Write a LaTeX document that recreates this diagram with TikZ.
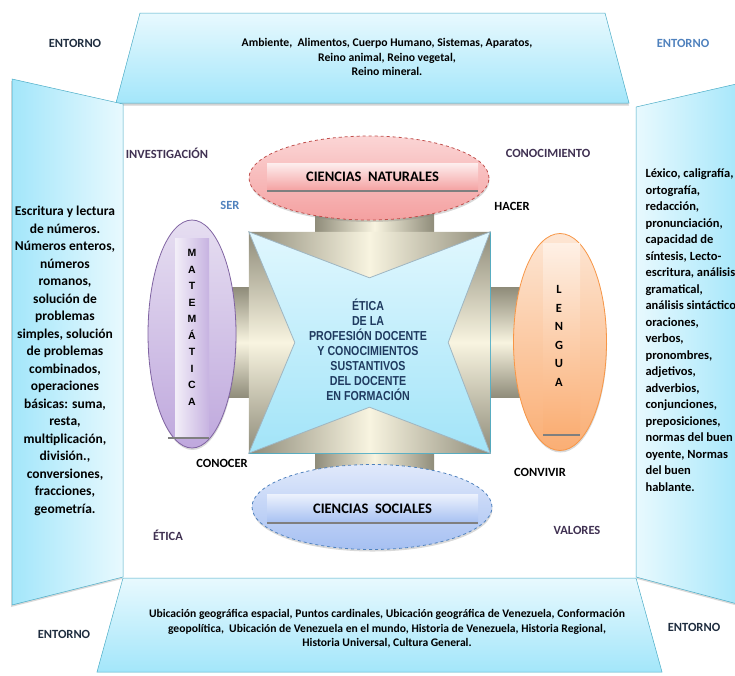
\documentclass[tikz,border=0pt]{standalone}
\usepackage{fontspec}
\setmainfont{Carlito}
\newfontfamily\narrowsans{Liberation Sans}[FakeStretch=0.82]
\newfontfamily\arialsans{Liberation Sans}
\usetikzlibrary{shapes.geometric,shadows,calc,backgrounds}

\definecolor{panelcyan}{HTML}{A3E6FA}
\definecolor{panellight}{HTML}{E8F9FE}
\definecolor{panelline}{HTML}{4BACC6}
\definecolor{tubedark}{HTML}{8F8C7A}
\definecolor{tubelight}{HTML}{F8F4E0}
\definecolor{wedgeline}{HTML}{9FB6C2}
\definecolor{coretop}{HTML}{E0F7FE}
\definecolor{corebot}{HTML}{A2E4F8}
\definecolor{natline}{HTML}{C0504D}
\definecolor{nattop}{HTML}{FBD5D5}
\definecolor{natbot}{HTML}{F4A0A0}
\definecolor{matline}{HTML}{8064A2}
\definecolor{mattop}{HTML}{E6DEF1}
\definecolor{matbot}{HTML}{BFA8DD}
\definecolor{lenline}{HTML}{F79646}
\definecolor{lentop}{HTML}{FDE6D4}
\definecolor{lenbot}{HTML}{FAAE74}
\definecolor{socline}{HTML}{4F81BD}
\definecolor{soctop}{HTML}{E0E9FB}
\definecolor{socbot}{HTML}{A6C0F2}
\definecolor{boxline}{HTML}{7F7F7F}
\definecolor{darknavy}{HTML}{1F2D3F}
\definecolor{plum}{HTML}{403152}
\definecolor{steel}{HTML}{4F81BD}
\definecolor{coretext}{HTML}{1F3A5F}

\newcommand\fsize[2]{\fontsize{#1}{#2}\selectfont}

\tikzset{
    panel/.style={draw=panelline,line width=0.5pt},
    tubev/.style={left color=tubedark,right color=tubedark,middle color=tubelight},
    tubeh/.style={top color=tubedark,bottom color=tubedark,middle color=tubelight},
    wedge/.style={draw=wedgeline,line width=0.8pt},
    subject/.style={ellipse,inner sep=0pt,line width=0.8pt,
        drop shadow={opacity=0.3,shadow xshift=0.5pt,shadow yshift=-2pt}},
    subjbox/.style={inner sep=0pt,font=\bfseries\fsize{14.5}{17}},
    tag/.style={font=\bfseries\fsize{12.5}{15}},
    paneltext/.style={font=\bfseries\fsize{13.5}{17.5},align=center},
    notetext/.style={font=\bfseries\fsize{11.7}{14.5},align=center},
    letters/.style={align=center}
}

\begin{document}
\begin{tikzpicture}[x=1pt,y=-1pt]
            \useasboundingbox (0,0) rectangle (735,675);

            % panels round the box
            \shade[panel,top color=panellight,bottom color=panelcyan,
                drop shadow={opacity=0.35,shadow xshift=0pt,shadow yshift=-2.5pt}]
                (140,13) -- (605,13) -- (629,103) -- (116,103) -- cycle;
            \shade[panel,left color=panelcyan,right color=panellight,
                drop shadow={opacity=0.3,shadow xshift=-1pt,shadow yshift=-2pt}]
                (12,79) -- (123,104) -- (123,577) -- (12,605) -- cycle;
            \shade[panel,left color=panellight,right color=panelcyan,
                drop shadow={opacity=0.3,shadow xshift=1pt,shadow yshift=-2pt}]
                (636,107) -- (745,82) -- (745,606) -- (636,577) -- cycle;
            \shade[panel,top color=panellight,bottom color=panelcyan]
                (123,578) -- (636,578) -- (662,672) -- (97,672) -- cycle;

            \node (envnw) at (75,43) [tag,text=darknavy] {ENTORNO};
            \node (envne) at (683,43) [tag,text=steel] {ENTORNO};
            \node (envsw) at (64,634) [tag,text=darknavy] {ENTORNO};
            \node (envse) at (694,627) [tag,text=darknavy] {ENTORNO};

            \node (nattext) at (387,57) [notetext]
                {Ambiente,\ \ Alimentos, Cuerpo Humano, Sistemas, Aparatos,\\
                 Reino animal, Reino vegetal,\\ Reino mineral.};
            \node (soctext) at (387,629) [notetext,font=\bfseries\fsize{11.6}{14.5}]
                {Ubicación geográfica espacial, Puntos cardinales, Ubicación geográfica de Venezuela, Conformación\\
                 geopolítica,\ \ Ubicación de Venezuela en el mundo, Historia de Venezuela, Historia Regional,\\
                 Historia Universal, Cultura General.};
            \node (mattext) at (65,361) [paneltext]
                {Escritura y lectura\\ de números.\\ Números enteros,\\ números\\ romanos,\\
                 solución de\\ problemas\\ simples, solución\\ de problemas\\ combinados,\\
                 operaciones\\ básicas: suma,\\ resta,\\ multiplicación,\\ división.,\\
                 conversiones,\\ fracciones,\\ geometría.};
            \node (lentext) at (642,330) [paneltext,anchor=west,align=left,font=\bfseries\fsize{12.5}{16.5}]
                {Léxico, caligrafía,\\ ortografía,\\ redacción,\\ pronunciación,\\ capacidad de\\
                 síntesis, Lecto-\\ escritura, análisis\\ gramatical,\\ análisis sintáctico\\
                 oraciones,\\ verbos,\\ pronombres,\\ adjetivos,\\ adverbios,\\ conjunciones,\\
                 preposiciones,\\ normas del buen\\ oyente, Normas\\ del buen\\ hablante.};

            % words in the corners of the box
            \node (inv) at (167,153) [tag,text=plum] {INVESTIGACIÓN};
            \node (con) at (548,153) [tag,text=plum] {CONOCIMIENTO};
            \node (ser) at (230,205) [tag,text=steel] {SER};
            \node (hac) at (512,206) [tag] {HACER};
            \node (cnc) at (222,463) [tag] {CONOCER};
            \node (cvv) at (540,472) [tag] {CONVIVIR};
            \node (eti) at (168,535) [tag,text=plum] {ÉTICA};
            \node (val) at (577,530) [tag,text=plum] {VALORES};

            % centre and subjects
            \node (core) at (369.5,342.5) [minimum width=241pt,minimum height=221pt,inner sep=0pt,
                draw=panelline,top color=coretop,bottom color=corebot] {};

            \node (nat) at (369,178) [subject,minimum width=240pt,minimum height=84pt,
                draw=natline,dashed,top color=nattop,bottom color=natbot] {};
            \node (mat) at (192,334) [subject,minimum width=88pt,minimum height=228pt,
                draw=matline,top color=mattop,bottom color=matbot] {};
            \node (len) at (560,342) [subject,minimum width=93pt,minimum height=217pt,
                draw=lenline,top color=lentop,bottom color=lenbot] {};
            \node (soc) at (372,507) [subject,minimum width=240pt,minimum height=85pt,
                draw=socline,dashed,top color=soctop,bottom color=socbot] {};

            \begin{pgfonlayer}{background}
            \shade[tubev] ($(nat.center)+(-54,0)$) rectangle ($(core.north)+(64.5,0)$);
            \shade[tubev] ($(core.south)+(-54.5,0)$) rectangle ($(soc.center)+(62,0)$);
            \shade[tubeh] ($(mat.center |- core.west)+(0,-55)$) rectangle ($(core.west)+(0,55)$);
            \shade[tubeh] ($(core.east)+(0,-55)$) rectangle ($(len.center |- core.east)+(0,55)$);
            \end{pgfonlayer}

            \shade[tubev] (core.north west) -- (core.north east) -- ($(core.north)+(0,46)$) -- cycle;
            \shade[tubev] (core.south west) -- (core.south east) -- ($(core.south)+(0,-46)$) -- cycle;
            \shade[tubeh] (core.north west) -- (core.south west) -- ($(core.west)+(46,0)$) -- cycle;
            \shade[tubeh] (core.north east) -- (core.south east) -- ($(core.east)+(-42,0)$) -- cycle;
            \draw[wedge] (core.north west) -- ($(core.north)+(0,46)$) -- (core.north east)
                -- ($(core.east)+(-42,0)$) -- (core.south east) -- ($(core.south)+(0,-46)$)
                -- (core.south west) -- ($(core.west)+(46,0)$) -- cycle;

            \node (ethic) at (368,350) [align=center,text=coretext,font=\narrowsans\bfseries\fsize{13}{15}]
                {ÉTICA\\ DE LA\\ PROFESIÓN DOCENTE\\ Y CONOCIMIENTOS\\ SUSTANTIVOS\\ DEL DOCENTE\\ EN FORMACIÓN};

            % bands inside the subjects
            \node (natband) at (372.5,177) [subjbox,minimum width=211pt,minimum height=28pt,
                top color=white!60!nattop,bottom color=natbot] {CIENCIAS\ \ NATURALES};
            \draw[boxline,line width=1.5pt] (natband.south west) -- (natband.south east);

            \node (socband) at (372.5,508.5) [subjbox,minimum width=211pt,minimum height=29pt,
                top color=white!40!soctop,bottom color=socbot] {CIENCIAS\ \ SOCIALES};
            \draw[boxline,line width=1.5pt] (socband.south west) -- (socband.south east);

            \node (matband) at (192,338) [subjbox,minimum width=34pt,minimum height=200pt,
                left color=white!50!mattop,right color=matbot!80!mattop] {};
            \draw[boxline,line width=1.5pt] ($(matband.south west)+(-7,0)$) -- (matband.south east);
            \node (matword) at (192,327.5) [letters,font=\arialsans\bfseries\fsize{10.5}{16.5}]
                {M\\ A\\ T\\ E\\ M\\ Á\\ T\\ I\\ C\\ A};

            \node (lenband) at (561.5,339) [subjbox,minimum width=37pt,minimum height=192pt,
                top color=white!40!lentop,bottom color=lenbot] {};
            \draw[boxline,line width=1.5pt] (lenband.south west) -- (lenband.south east);
            \node (lenword) at (559,336) [letters,font=\bfseries\fsize{12.5}{18.5}]
                {L\\ E\\ N\\ G\\ U\\ A};

        \end{tikzpicture}
\end{document}
